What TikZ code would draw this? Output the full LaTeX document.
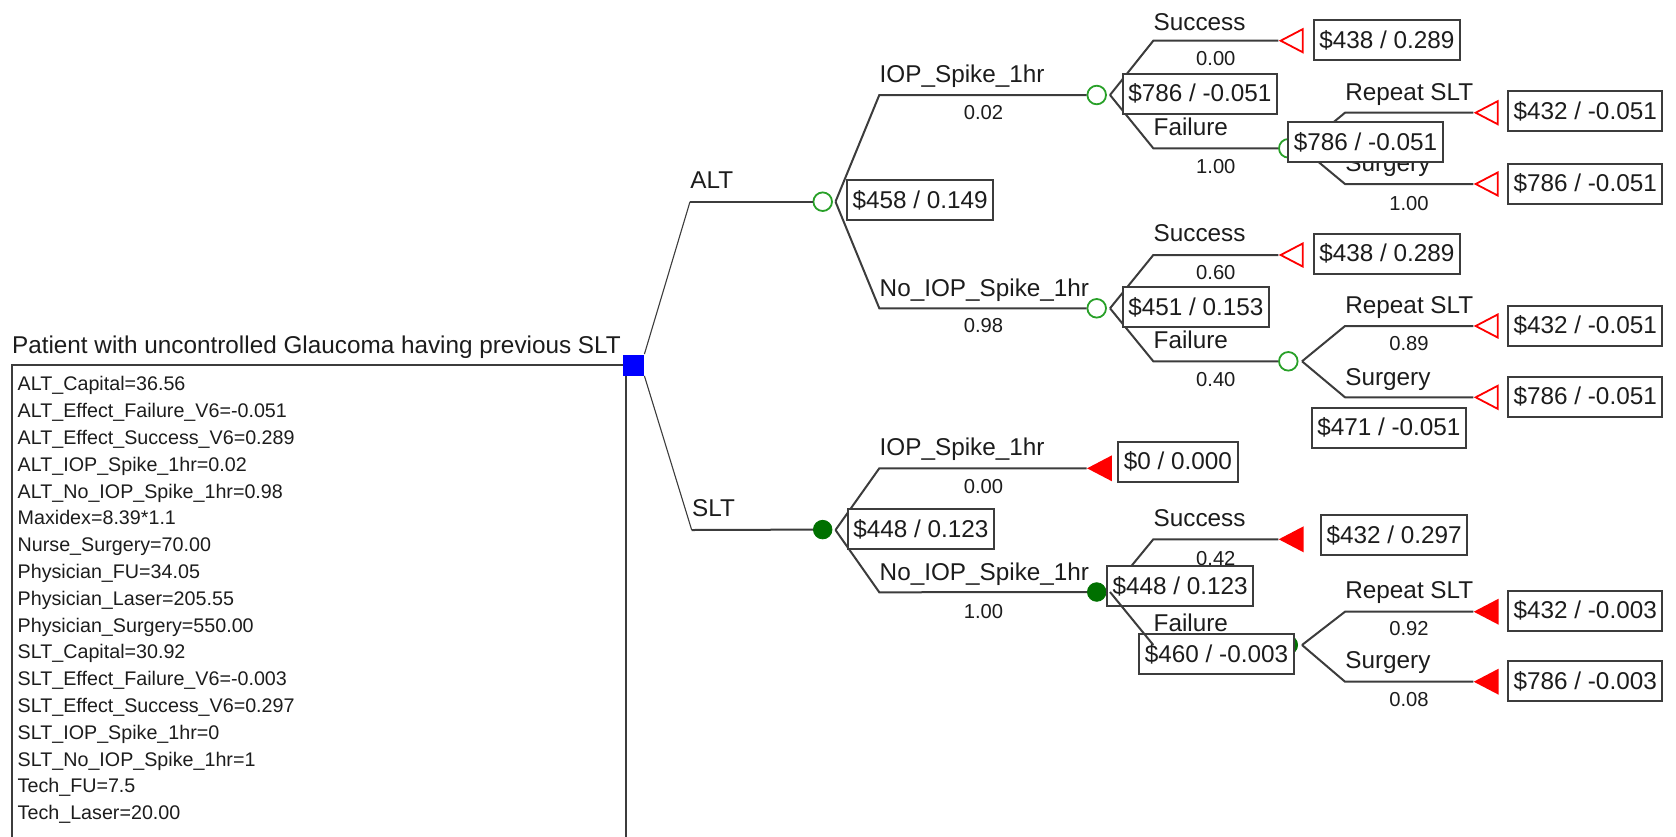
\documentclass[tikz,border=0pt]{standalone}
\usepackage{fontspec}
\setmainfont{Liberation Sans}
\usetikzlibrary{shapes.geometric}

\definecolor{chancegreen}{RGB}{40,160,40}
\definecolor{darkchance}{RGB}{0,112,0}
\definecolor{linegray}{RGB}{60,60,60}
\definecolor{textgray}{RGB}{28,28,28}

\newcommand{\mainsize}{\fontsize{12.15}{14}\selectfont}
\newcommand{\probsize}{\fontsize{10.1}{12}\selectfont}
\newcommand{\varsize}{\fontsize{9.85}{12}\selectfont}

\begin{document}
\begin{tikzpicture}[x=0.5pt,y=-0.5pt,
  branch/.style={linegray,line width=1pt},
  rootline/.style={linegray,line width=0.55pt},
  decision/.style={rectangle,fill=blue,minimum size=10.5pt,inner sep=0pt},
  chance/.style={circle,draw=chancegreen,line width=0.9pt,minimum size=9.3pt,inner sep=0pt},
  chancefull/.style={circle,draw=darkchance,fill=darkchance,minimum size=9.3pt,inner sep=0pt},
  terminal/.style={isosceles triangle,isosceles triangle stretches,shape border rotate=180,
    draw=red,line width=0.9pt,minimum width=11.5pt,minimum height=11pt,inner sep=0pt,anchor=apex},
  terminalfull/.style={terminal,fill=red},
  valbox/.style={draw=linegray,fill=white,line width=1pt,text=textgray,font=\mainsize,
    inner xsep=2.8pt,minimum height=20pt,anchor=west},
  lbl/.style={text=textgray,font=\mainsize,inner sep=0pt,anchor=base west},
  prob/.style={text=textgray,font=\probsize,inner sep=0pt,anchor=base},
  param/.style={text=textgray,font=\varsize,inner sep=0pt,anchor=base west}]

  \useasboundingbox (0,0) rectangle (1676,836);

  % Variable box under the decision node
  \draw[branch] (11.7,365) rectangle (626,850);
  \node[lbl] (title) at (11.7,353) {Patient with uncontrolled Glaucoma having previous SLT};
  \foreach \v [count=\i from 0] in {ALT\_Capital=36.56, ALT\_Effect\_Failure\_V6=-0.051,
      ALT\_Effect\_Success\_V6=0.289, ALT\_IOP\_Spike\_1hr=0.02, ALT\_No\_IOP\_Spike\_1hr=0.98,
      Maxidex=8.39*1.1, Nurse\_Surgery=70.00, Physician\_FU=34.05, Physician\_Laser=205.55,
      Physician\_Surgery=550.00, SLT\_Capital=30.92, SLT\_Effect\_Failure\_V6=-0.003,
      SLT\_Effect\_Success\_V6=0.297, SLT\_IOP\_Spike\_1hr=0, SLT\_No\_IOP\_Spike\_1hr=1,
      Tech\_FU=7.5, Tech\_Laser=20.00}
    \node[param] (var\i) at (17.3,{390.8+26.8*\i}) {\v};

  % Decision node
  \node[decision] (root) at (633.5,365) {};

  % Branch corners and fan points
  \coordinate (altC) at (690,201.7);    \coordinate (altF) at (835.5,201.7);
  \coordinate (a1C) at (879.3,95);      \coordinate (a1F) at (1110,95);
  \coordinate (a1sC) at (1153.3,40.7);
  \coordinate (a1fC) at (1153.3,148.3); \coordinate (a1fF) at (1302,148.3);
  \coordinate (a1frC) at (1345,112.7);
  \coordinate (a1fsC) at (1345,184);
  \coordinate (a2C) at (879.3,308.3);   \coordinate (a2F) at (1110,308.3);
  \coordinate (a2sC) at (1153.3,255);
  \coordinate (a2fC) at (1153.3,361.3); \coordinate (a2fF) at (1302,361.3);
  \coordinate (a2frC) at (1345,326);
  \coordinate (a2fsC) at (1345,397.3);
  \coordinate (sltC) at (691.7,530);    \coordinate (sltF) at (835.5,530);
  \coordinate (s1C) at (879.3,468.3);
  \coordinate (s2C) at (879.3,592.3);   \coordinate (s2F) at (1110,592);
  \coordinate (s2sC) at (1153.3,539.3);
  \coordinate (s2fC) at (1153.3,645);   \coordinate (s2fF) at (1302,645);
  \coordinate (s2frC) at (1345,611.7);
  \coordinate (s2fsC) at (1345,681.7);

  % Chance nodes
  \node[chance] (alt) at (822.7,201.7) {};
  \node[chance] (a1) at (1096.7,95) {};
  \node[chance] (a1f) at (1288.3,148.3) {};
  \node[chance] (a2) at (1096.7,308.3) {};
  \node[chance] (a2f) at (1288.3,361.3) {};
  \node[chancefull] (slt) at (822.7,529.6) {};
  \node[chancefull] (s2) at (1096.7,592) {};
  \node[chancefull] (s2f) at (1288.3,645) {};

  % Terminal nodes
  \node[terminal] (a1s) at (1278.3,40.7) {};
  \node[terminal] (a1fr) at (1473.3,112.7) {};
  \node[terminal] (a1fs) at (1473.3,184) {};
  \node[terminal] (a2s) at (1278.3,255) {};
  \node[terminal] (a2fr) at (1473.3,326) {};
  \node[terminal] (a2fs) at (1473.3,397.3) {};
  \node[terminalfull] (s1) at (1086.7,468.3) {};
  \node[terminalfull] (s2s) at (1278.3,539.3) {};
  \node[terminalfull] (s2fr) at (1473.3,611.7) {};
  \node[terminalfull] (s2fs) at (1473.3,681.7) {};

  % Branches
  \draw[rootline] (root.north east) -- (altC);
  \draw[rootline] (root.south east) -- (sltC);
  \draw[branch] (altC) -- (alt.west);
  \draw[branch] (sltC) -- (slt.west);
  \draw[branch] (altF) -- (a1C) -- (a1.west);
  \draw[branch] (altF) -- (a2C) -- (a2.west);
  \draw[branch] (a1F) -- (a1sC) -- (a1s.apex);
  \draw[branch] (a1F) -- (a1fC) -- (a1f.west);
  \draw[branch] (a1fF) -- (a1frC) -- (a1fr.apex);
  \draw[branch] (a1fF) -- (a1fsC) -- (a1fs.apex);
  \draw[branch] (a2F) -- (a2sC) -- (a2s.apex);
  \draw[branch] (a2F) -- (a2fC) -- (a2f.west);
  \draw[branch] (a2fF) -- (a2frC) -- (a2fr.apex);
  \draw[branch] (a2fF) -- (a2fsC) -- (a2fs.apex);
  \draw[branch] (sltF) -- (s1C) -- (s1.apex);
  \draw[branch] (sltF) -- (s2C) -- (s2.west);
  \draw[branch] (s2F) -- (s2sC) -- (s2s.apex);
  \draw[branch] (s2fC) -- (s2f.west);
  \draw[branch] (s2fF) -- (s2frC) -- (s2fr.apex);
  \draw[branch] (s2fF) -- (s2fsC) -- (s2fs.apex);

  % Branch names
  \node[lbl] (altL) at (690,188) {ALT};
  \node[lbl] (a1L) at (879.3,82.5) {IOP\_Spike\_1hr};
  \node[lbl] (a1sL) at (1153.3,30) {Success};
  \node[lbl] (a1fL) at (1153.3,135.5) {Failure};
  \node[lbl] (a1frL) at (1345,100) {Repeat SLT};
  \node[lbl] (a1fsL) at (1345,171.5) {Surgery};
  \node[lbl] (a2L) at (879.3,296.5) {No\_IOP\_Spike\_1hr};
  \node[lbl] (a2sL) at (1153.3,241.5) {Success};
  \node[lbl] (a2fL) at (1153.3,348.3) {Failure};
  \node[lbl] (a2frL) at (1345,313.3) {Repeat SLT};
  \node[lbl] (a2fsL) at (1345,385) {Surgery};
  \node[lbl] (sltL) at (691.7,516.7) {SLT};
  \node[lbl] (s1L) at (879.3,455) {IOP\_Spike\_1hr};
  \node[lbl] (s2L) at (879.3,580) {No\_IOP\_Spike\_1hr};
  \node[lbl] (s2sL) at (1153.3,526.7) {Success};
  \node[lbl] (s2fL) at (1153.3,631.7) {Failure};
  \node[lbl] (s2frL) at (1345,598.3) {Repeat SLT};
  \node[lbl] (s2fsL) at (1345,668.3) {Surgery};

  % Probabilities
  \node[prob] (a1P) at (983.5,119.5) {0.02};
  \node[prob] (a1sP) at (1215.8,65.7) {0.00};
  \node[prob] (a1fP) at (1215.8,173.3) {1.00};
  \node[prob] (a1fsP) at (1409,210) {1.00};
  \node[prob] (a2P) at (983.5,332.7) {0.98};
  \node[prob] (a2sP) at (1215.8,279.5) {0.60};
  \node[prob] (a2fP) at (1215.8,386.7) {0.40};
  \node[prob] (a2frP) at (1409,350.7) {0.89};
  \node[prob] (s1P) at (983.5,493.3) {0.00};
  \node[prob] (s2P) at (983.5,618.3) {1.00};
  \node[prob] (s2sP) at (1215.8,565) {0.42};
  \node[prob] (s2frP) at (1409,635) {0.92};
  \node[prob] (s2fsP) at (1409,706.7) {0.08};

  % Expected values (cost / effect)
  \node[valbox] (altV) at (846,200.3) {\$458 / 0.149};
  \node[valbox] (a1V) at (1121.7,93.8) {\$786 / -0.051};
  \node[valbox] (a1sV) at (1312.7,40) {\$438 / 0.289};
  \node[valbox] (a1fV) at (1287.3,142.2) {\$786 / -0.051};
  \node[valbox] (a1frV) at (1507,111.4) {\$432 / -0.051};
  \node[valbox] (a1fsV) at (1507,183.6) {\$786 / -0.051};
  \node[valbox] (a2V) at (1121.7,307.2) {\$451 / 0.153};
  \node[valbox] (a2sV) at (1312.7,253.7) {\$438 / 0.289};
  \node[valbox] (a2fV) at (1310.7,427.7) {\$471 / -0.051};
  \node[valbox] (a2frV) at (1507,325.7) {\$432 / -0.051};
  \node[valbox] (a2fsV) at (1507,396.8) {\$786 / -0.051};
  \node[valbox] (sltV) at (846.7,529.3) {\$448 / 0.123};
  \node[valbox] (s1V) at (1117.3,461.7) {\$0 / 0.000};
  \node[valbox] (s2V) at (1106,586) {\$448 / 0.123};
  \node[valbox] (s2sV) at (1320,535) {\$432 / 0.297};
  \node[valbox] (s2fV) at (1138.3,654) {\$460 / -0.003};
  \node[valbox] (s2frV) at (1507,610.5) {\$432 / -0.003};
  \node[valbox] (s2fsV) at (1507,681) {\$786 / -0.003};

  % Failure branch drawn over its value box
  \draw[branch] (s2F) -- (s2fC);
\end{tikzpicture}
\end{document}
